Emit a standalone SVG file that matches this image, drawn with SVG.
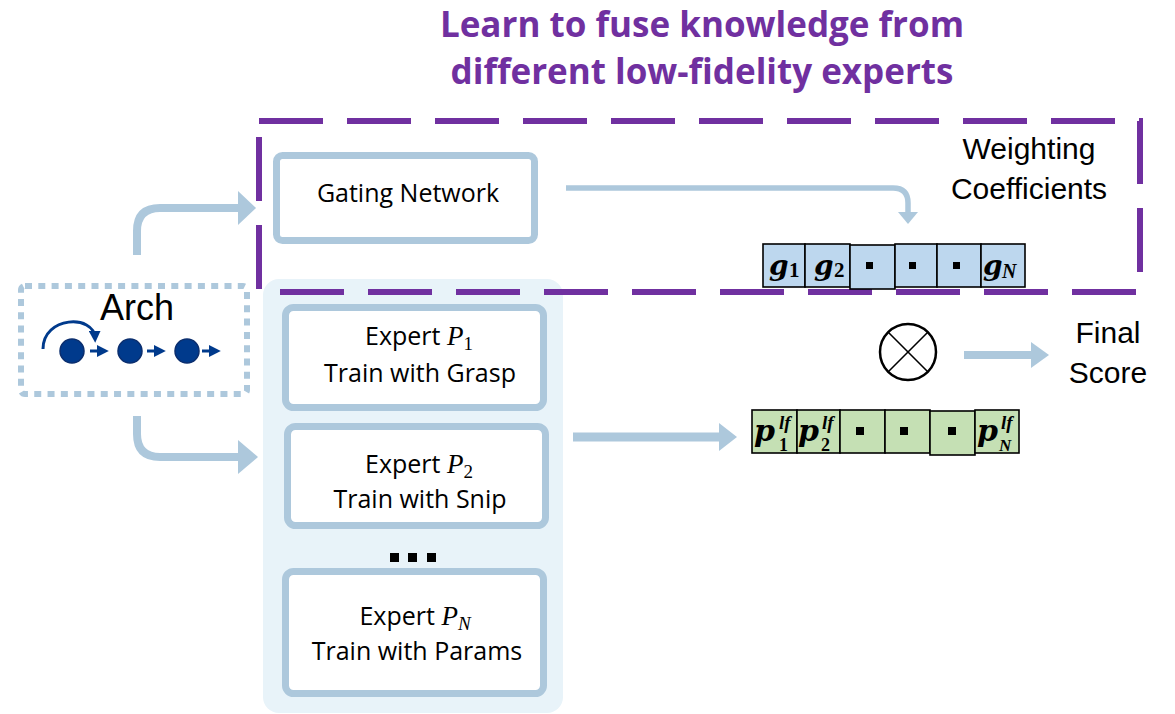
<svg xmlns="http://www.w3.org/2000/svg" width="1175" height="714" viewBox="0 0 1175 714">
<style>
.title{font-family:"Open Sans","Liberation Sans",sans-serif;font-weight:bold;font-size:35px;fill:#7030A0;text-anchor:middle}
.cal{font-family:"Open Sans","Liberation Sans",sans-serif;font-size:25px;fill:#000;text-anchor:middle}
.ar{font-family:"Liberation Sans",Arial,sans-serif;font-size:30px;fill:#000;text-anchor:middle}
.mi{font-family:"Liberation Serif","Times New Roman",serif;font-style:italic}
.mb{font-family:"DejaVu Serif","Liberation Serif",serif;font-style:italic;font-weight:bold;fill:#000}
.md{font-family:"Liberation Serif","Times New Roman",serif;font-weight:bold;fill:#000}
.box{fill:#fff;stroke:#ADC8DC;stroke-width:7}
.lb{fill:none;stroke:#ADC8DC}
.lbh{fill:#ADC8DC}
.gcell{fill:#BDD7EE;stroke:#000;stroke-width:1.6}
.pcell{fill:#C5E0B4;stroke:#000;stroke-width:1.6}
</style>
<defs>
<marker id="dbh" viewBox="0 0 10 10" refX="6" refY="5" markerWidth="4" markerHeight="4" orient="auto" markerUnits="strokeWidth">
<path d="M0,0 L10,5 L0,10 z" fill="#003A8C"/>
</marker>
</defs>
<rect width="1175" height="714" fill="#fff"/>

<g id="title">
<text class="title" x="702" y="37">Learn to fuse knowledge from</text>
<text class="title" x="702" y="84">different low-fidelity experts</text>
</g>

<g id="experts-panel">
<rect x="263" y="279" width="300" height="434" rx="16" fill="#E8F3F9"/>
</g>

<g id="fusion-region">
<rect x="259" y="121" width="881" height="171" fill="none" stroke="#7030A0" stroke-width="6" stroke-dasharray="64 24"/>
</g>

<g id="weighting-label">
<text class="ar" x="1029" y="159">Weighting</text>
<text class="ar" x="1029" y="199">Coefficients</text>
</g>

<g id="gating-network">
<rect class="box" x="276.5" y="155.5" width="258" height="85" rx="6"/>
<text class="cal" x="408" y="202">Gating Network</text>
</g>

<g id="arch">
<rect x="21" y="286" width="226" height="108" rx="4" fill="none" stroke="#ADC8DC" stroke-width="6" stroke-dasharray="7 6.3"/>
<text class="ar" x="137" y="320" style="font-size:36px">Arch</text>
<path d="M43,349 C43,316 94,314 95,338" fill="none" stroke="#003A8C" stroke-width="3" marker-end="url(#dbh)"/>
<circle cx="72" cy="351" r="12" fill="#003A8C" stroke="#0B2E6E" stroke-width="1.5"/>
<circle cx="130" cy="351" r="12" fill="#003A8C" stroke="#0B2E6E" stroke-width="1.5"/>
<circle cx="187" cy="351" r="12" fill="#003A8C" stroke="#0B2E6E" stroke-width="1.5"/>
<line x1="90" y1="351" x2="104" y2="351" stroke="#003A8C" stroke-width="3" marker-end="url(#dbh)"/>
<line x1="147" y1="351" x2="161" y2="351" stroke="#003A8C" stroke-width="3" marker-end="url(#dbh)"/>
<line x1="202" y1="351" x2="216" y2="351" stroke="#003A8C" stroke-width="3" marker-end="url(#dbh)"/>
</g>

<g id="expert-p1">
<rect class="box" x="285.5" y="307.5" width="258" height="100" rx="8"/>
<text class="cal" x="419" y="345">Expert <tspan class="mi" style="font-size:27px">P</tspan><tspan class="mi" style="font-size:19px;font-style:normal" dy="5">1</tspan></text>
<text class="cal" x="420" y="382">Train with Grasp</text>
</g>

<g id="expert-p2">
<rect class="box" x="287.5" y="426.5" width="258" height="99" rx="8"/>
<text class="cal" x="419" y="473">Expert <tspan class="mi" style="font-size:27px">P</tspan><tspan class="mi" style="font-size:19px;font-style:normal" dy="5">2</tspan></text>
<text class="cal" x="420" y="508">Train with Snip</text>
</g>

<g id="expert-dots">
<rect x="390" y="553" width="9" height="9" fill="#000"/>
<rect x="408" y="553" width="9" height="9" fill="#000"/>
<rect x="427" y="553" width="9" height="9" fill="#000"/>
</g>

<g id="expert-pn">
<rect class="box" x="285.5" y="571.5" width="258" height="122" rx="8"/>
<text class="cal" x="415" y="625">Expert <tspan class="mi" style="font-size:27px">P</tspan><tspan class="mi" style="font-size:19px" dy="5">N</tspan></text>
<text class="cal" x="417" y="660">Train with Params</text>
</g>

<g id="g-vector">
<rect class="gcell" x="763" y="244" width="42" height="43"/>
<rect class="gcell" x="805" y="244" width="45" height="43"/>
<rect class="gcell" x="850" y="245" width="45" height="44"/>
<rect class="gcell" x="895" y="244" width="42" height="43"/>
<rect class="gcell" x="937" y="244" width="44" height="43"/>
<rect class="gcell" x="981" y="244" width="44" height="43"/>
<text class="mb" x="769" y="275" font-size="28">g</text>
<text class="md" x="789" y="277" font-size="21">1</text>
<text class="mb" x="814" y="275" font-size="28">g</text>
<text class="md" x="834" y="277" font-size="21">2</text>
<rect x="866" y="262" width="7" height="7" fill="#000"/>
<rect x="909" y="262" width="7" height="7" fill="#000"/>
<rect x="953" y="262" width="7" height="7" fill="#000"/>
<text class="mb" x="983" y="275" font-size="28">g</text>
<text class="md" x="1002" y="278" font-size="20" style="font-style:italic">N</text>
</g>

<g id="p-vector">
<rect class="pcell" x="752" y="410" width="45" height="43"/>
<rect class="pcell" x="797" y="410" width="43" height="43"/>
<rect class="pcell" x="840" y="410" width="45" height="43"/>
<rect class="pcell" x="885" y="410" width="45" height="43"/>
<rect class="pcell" x="930" y="411" width="45" height="44"/>
<rect class="pcell" x="975" y="410" width="44" height="43"/>
<text class="mb" x="754" y="441" font-size="30">p</text>
<text class="md" x="779" y="429" font-size="19" style="font-style:italic">lf</text>
<text class="md" x="779" y="451" font-size="18">1</text>
<text class="mb" x="798" y="441" font-size="30">p</text>
<text class="md" x="822" y="429" font-size="19" style="font-style:italic">lf</text>
<text class="md" x="821" y="451" font-size="18">2</text>
<rect x="856" y="427" width="8" height="8" fill="#000"/>
<rect x="900" y="427" width="8" height="8" fill="#000"/>
<rect x="948" y="427" width="8" height="8" fill="#000"/>
<text class="mb" x="977" y="441" font-size="30">p</text>
<text class="md" x="1001" y="429" font-size="19" style="font-style:italic">lf</text>
<text class="md" x="999" y="451" font-size="17" style="font-style:italic">N</text>
</g>

<g id="otimes">
<circle cx="908" cy="352" r="28" fill="#fff" stroke="#000" stroke-width="2.5"/>
<line x1="888.5" y1="332.5" x2="927.5" y2="371.5" stroke="#000" stroke-width="1.6"/>
<line x1="927.5" y1="332.5" x2="888.5" y2="371.5" stroke="#000" stroke-width="1.6"/>
</g>

<g id="final-score">
<text class="ar" x="1108" y="343">Final</text>
<text class="ar" x="1108" y="383">Score</text>
</g>

<g id="connectors">
<path class="lb" d="M137,255 V231 Q137,208 160,208 H240" stroke-width="8"/>
<polygon class="lbh" points="238,191 256,208 238,225"/>
<path class="lb" d="M137,416 V434 Q137,457 160,457 H240" stroke-width="8"/>
<polygon class="lbh" points="238,440 258,457 238,474"/>
<path class="lb" d="M566,188 H893 Q908,188 908,203 V214" stroke-width="5.5"/>
<polygon class="lbh" points="898,212 918,212 908,224"/>
<path class="lb" d="M573,437 H722" stroke-width="9"/>
<polygon class="lbh" points="719,423 737,437 719,451"/>
<path class="lb" d="M964,355 H1034" stroke-width="8"/>
<polygon class="lbh" points="1031,342 1049,355 1031,368"/>
</g>
</svg>
